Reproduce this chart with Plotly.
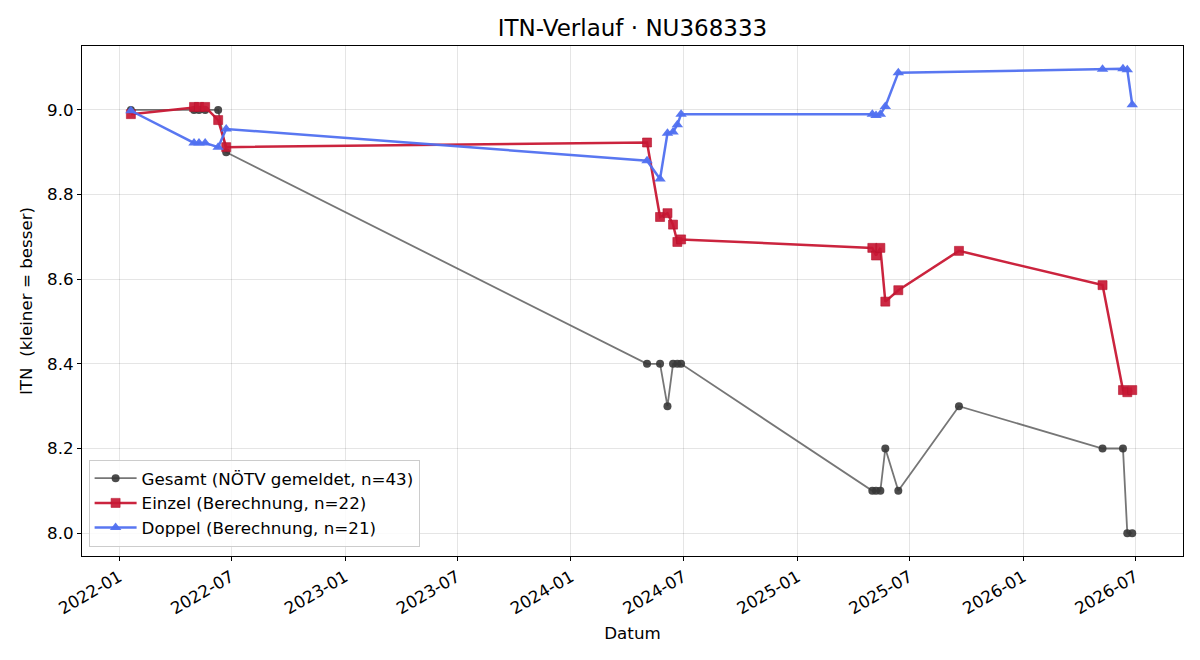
import plotly.graph_objects as go

dates = ["2022-01-20", "2022-05-02", "2022-05-10", "2022-05-20", "2022-06-10", "2022-06-23",
         "2024-05-03", "2024-05-24", "2024-06-05", "2024-06-14", "2024-06-21", "2024-06-27",
         "2025-05-02", "2025-05-08", "2025-05-15", "2025-05-23", "2025-06-13", "2025-09-19",
         "2026-05-09", "2026-06-11", "2026-06-18", "2026-06-26"]

gesamt = [9.0, 9.0, 9.0, 9.0, 9.0, 8.9,
          8.4, 8.4, 8.3, 8.4, 8.4, 8.4,
          8.1, 8.1, 8.1, 8.2, 8.1, 8.3,
          8.2, 8.2, 8.0, 8.0]

einzel = [8.990, 9.007, 9.007, 9.007, 8.976, 8.912,
          8.923, 8.747, 8.756, 8.729, 8.688, 8.694,
          8.674, 8.656, 8.674, 8.547, 8.574, 8.667,
          8.586, 8.338, 8.333, 8.338]

doppel_dates = ["2022-01-20", "2022-05-02", "2022-05-10", "2022-05-20", "2022-06-10", "2022-06-23",
                "2024-05-03", "2024-05-24", "2024-06-05", "2024-06-14", "2024-06-21", "2024-06-27",
                "2025-05-02", "2025-05-08", "2025-05-15", "2025-05-23", "2025-06-13",
                "2026-05-09", "2026-06-11", "2026-06-18", "2026-06-26"]
doppel = [8.998, 8.922, 8.922, 8.922, 8.912, 8.955,
          8.880, 8.837, 8.945, 8.948, 8.965, 8.990,
          8.990, 8.987, 8.990, 9.008, 9.088,
          9.096, 9.097, 9.095, 9.012]

x_ticks = ["2022-01-01", "2022-07-01", "2023-01-01", "2023-07-01", "2024-01-01",
           "2024-07-01", "2025-01-01", "2025-07-01", "2026-01-01", "2026-07-01"]
y_ticks = [8.0, 8.2, 8.4, 8.6, 8.8, 9.0]

FONT = "DejaVu Sans"

fig = go.Figure()
fig.add_trace(go.Scatter(
    x=dates, y=gesamt, mode="lines+markers",
    name="Gesamt (NÖTV gemeldet, n=43)",
    line=dict(color="rgba(80,80,80,0.78)", width=1.8),
    marker=dict(symbol="circle", size=8, color="rgba(55,55,55,0.9)",
                line=dict(width=0))))
fig.add_trace(go.Scatter(
    x=dates, y=einzel, mode="lines+markers",
    name="Einzel (Berechnung, n=22)",
    line=dict(color="rgba(200,24,52,0.95)", width=2.5),
    marker=dict(symbol="square", size=9, color="rgba(200,24,52,0.92)",
                line=dict(width=0.6, color="rgba(180,20,45,1)"))))
fig.add_trace(go.Scatter(
    x=doppel_dates, y=doppel, mode="lines+markers",
    name="Doppel (Berechnung, n=21)",
    line=dict(color="rgba(80,112,240,0.95)", width=2.5),
    marker=dict(symbol="triangle-up", size=10, color="rgba(80,112,240,0.95)",
                line=dict(width=0))))

fig.update_layout(
    width=1200, height=660,
    margin=dict(l=82, r=17, t=46, b=104),
    paper_bgcolor="white", plot_bgcolor="white",
    font=dict(family=FONT, size=16.7, color="black"),
    title=dict(text="ITN-Verlauf · NU368333", x=0.5, xref="paper", xanchor="center",
               y=1 - 28 / 660, yanchor="middle", font=dict(size=23, family=FONT)),
    showlegend=True,
    legend=dict(x=0.006, y=0.018, xanchor="left", yanchor="bottom",
                bgcolor="rgba(255,255,255,0.85)", bordercolor="#cccccc", borderwidth=1,
                font=dict(size=16.7, family=FONT), tracegroupgap=0, itemwidth=42),
)
fig.update_xaxes(
    range=["2021-11-02", "2026-09-16"],
    tickvals=x_ticks, tickformat="%Y-%m", tickangle=-30,
    showgrid=True, gridcolor="rgba(0,0,0,0.1)", gridwidth=1,
    showline=True, linecolor="black", linewidth=1, mirror=True,
    ticks="outside", ticklen=4, tickcolor="black",
    tickfont=dict(size=16.7, family=FONT),
    title=dict(text="Datum", font=dict(size=16.7, family=FONT), standoff=10),
    zeroline=False)
fig.update_yaxes(
    range=[7.946, 9.151],
    tickvals=y_ticks, tickformat=".1f",
    showgrid=True, gridcolor="rgba(0,0,0,0.1)", gridwidth=1,
    showline=True, linecolor="black", linewidth=1, mirror=True,
    ticks="outside", ticklen=4, tickcolor="black",
    tickfont=dict(size=16.7, family=FONT),
    title=dict(text="ITN  (kleiner = besser)", font=dict(size=16.7, family=FONT), standoff=10),
    zeroline=False)

fig.write_html("out.html")
